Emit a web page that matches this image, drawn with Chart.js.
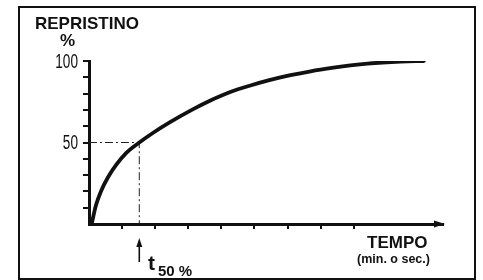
<!DOCTYPE html>
<html>
<head>
<meta charset="utf-8">
<script src="https://cdn.jsdelivr.net/npm/chart.js@4.4.1/dist/chart.umd.min.js"></script>
<style>
  html, body { margin: 0; padding: 0; background: #fff; }
  #wrap { width: 483px; height: 280px; }
</style>
</head>
<body>
<div id="wrap"><canvas id="chart" width="483" height="280"></canvas></div>
<script>
// curve (x in tick units, y in %)
const timeValues = [0.08, 0.21, 0.36, 0.57, 0.82, 1.12, 1.52, 1.94, 2.45, 3.15, 3.67, 4.27, 4.88, 5.48, 6.09, 6.7, 7.39, 7.9, 8.42, 9.42, 10.12];
const recoveryValues = [0, 11.5, 20, 28.5, 36.2, 43.5, 50, 56, 62.5, 70.5, 75.8, 81, 85, 88.4, 91.3, 93.7, 95.9, 97.3, 98.4, 99.6, 100];

const t50 = 1.52;
const halfValue = 50;
const yLabelValues = [50, 100];
const xTickMax = 8;

const curve = timeValues.map((t, i) => ({ x: t, y: recoveryValues[i] }));
const guide = [{ x: 0, y: halfValue }, { x: t50, y: halfValue }, { x: t50, y: 0 }];

const f = s => 'bold ' + s + 'px "Liberation Sans", Arial, sans-serif';

// frame, titles, arrows, condensed y labels
const decorations = {
  id: 'decorations',
  beforeDraw(chart) {
    const ctx = chart.ctx;
    ctx.save();
    ctx.fillStyle = '#fff';
    ctx.fillRect(0, 0, chart.width, chart.height);
    ctx.strokeStyle = '#111';
    ctx.lineWidth = 2;
    ctx.strokeRect(19, 7, 456, 272);
    ctx.restore();
  },
  afterDraw(chart) {
    const ctx = chart.ctx;
    const area = chart.chartArea;
    const xs = chart.scales.x;
    const ys = chart.scales.y;
    ctx.save();
    ctx.fillStyle = '#111';
    ctx.strokeStyle = '#111';
    ctx.textBaseline = 'alphabetic';

    ctx.font = f(17);
    ctx.fillText('REPRISTINO', 35, 29);
    ctx.fillText('%', 60, 46);

    ctx.fillText('TEMPO', 367, 248);
    ctx.font = f(12.5);
    ctx.fillText('(min. o sec.)', 357, 263);

    // y labels, narrow like the original lettering
    ctx.font = '20px "Liberation Sans", Arial, sans-serif';
    ctx.textAlign = 'right';
    ctx.textBaseline = 'middle';
    yLabelValues.forEach(v => {
      const py = ys.getPixelForValue(v);
      ctx.save();
      ctx.translate(area.left - 11, py + 1);
      ctx.scale(0.68, 1);
      ctx.fillText(String(v), 0, 0);
      ctx.restore();
    });
    ctx.textAlign = 'left';
    ctx.textBaseline = 'alphabetic';

    // x axis arrowhead
    ctx.beginPath();
    ctx.moveTo(area.right + 2, area.bottom);
    ctx.lineTo(area.right - 9, area.bottom - 3.5);
    ctx.lineTo(area.right - 9, area.bottom + 3.5);
    ctx.closePath();
    ctx.fill();

    // t50 arrow
    const ax = xs.getPixelForValue(t50);
    ctx.lineWidth = 1.6;
    ctx.beginPath();
    ctx.moveTo(ax, 246);
    ctx.lineTo(ax, 262);
    ctx.stroke();
    ctx.beginPath();
    ctx.moveTo(ax, 238);
    ctx.lineTo(ax - 3, 247);
    ctx.lineTo(ax + 3, 247);
    ctx.closePath();
    ctx.fill();

    ctx.font = f(21);
    ctx.fillText('t', 148, 270);
    ctx.font = f(15);
    ctx.fillText('50 %', 158, 276);
    ctx.restore();
  }
};

new Chart(document.getElementById('chart'), {
  type: 'scatter',
  data: {
    datasets: [
      {
        data: curve,
        showLine: true,
        borderColor: '#111',
        borderWidth: 3.8,
        pointRadius: 0,
        cubicInterpolationMode: 'monotone',
        borderCapStyle: 'round'
      },
      {
        data: guide,
        showLine: true,
        borderColor: '#222',
        borderWidth: 1,
        borderDash: [8, 3, 2, 3],
        pointRadius: 0
      }
    ]
  },
  options: {
    responsive: false,
    animation: false,
    events: [],
    layout: { padding: { left: 44, top: 61, right: 40, bottom: 36 } },
    plugins: { legend: { display: false }, tooltip: { enabled: false } },
    scales: {
      x: {
        type: 'linear',
        min: 0,
        max: 10.7,
        afterFit: s => { s.height = 20; },
        border: { display: true, color: '#111', width: 3 },
        grid: {
          drawOnChartArea: false,
          tickLength: 5,
          lineWidth: 2,
          color: c => (c.tick && c.tick.value > 0 && c.tick.value <= xTickMax && Number.isInteger(c.tick.value)) ? '#111' : 'rgba(0,0,0,0)'
        },
        ticks: { stepSize: 1, autoSkip: false, callback: () => '', font: { size: 1 } }
      },
      y: {
        min: 0,
        max: 100,
        afterFit: s => { s.width = 45; },
        border: { display: true, color: '#111', width: 3 },
        grid: {
          drawOnChartArea: false,
          tickLength: 6,
          lineWidth: 2,
          color: c => (c.tick && c.tick.value > 0) ? '#111' : 'rgba(0,0,0,0)'
        },
        ticks: { stepSize: 10, autoSkip: false, callback: () => '', font: { size: 1 } }
      }
    }
  },
  plugins: [decorations]
});
</script>
</body>
</html>
